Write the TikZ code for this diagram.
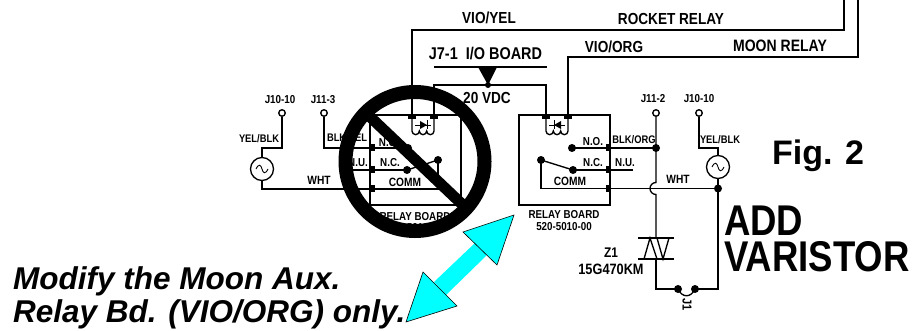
\documentclass[tikz,border=0pt]{standalone}
\usepackage{fontspec}
\setmainfont{Liberation Sans}
\newfontfamily\nf[FakeStretch=0.85]{Liberation Sans}
\definecolor{cya}{RGB}{0,255,255}
\tikzset{
 w/.style={line width=1.35pt,line join=miter},
 lab/.style={inner sep=0pt,font=\nf\bfseries\fontsize{#1}{#1}\selectfont},
 lab/.default=11.5,
 term/.style={circle,draw,line width=1.35pt,fill=white,minimum size=6.5pt,inner sep=0pt},
 jdot/.style={circle,fill=black,minimum size=8pt,inner sep=0pt},
 pad/.style={rectangle,fill=black,minimum width=8pt,minimum height=5pt,inner sep=0pt},
 sidepad/.style={rectangle,fill=black,minimum width=5pt,minimum height=7pt,inner sep=0pt},
 source/.style={circle,draw,line width=1.35pt,fill=white,minimum size=23pt,inner sep=0pt},
 cy/.style={fill=cya,draw=none},
 cyh/.style={fill=cya,draw=black,line width=.6pt,line join=miter},
}
\begin{document}
\begin{tikzpicture}[x=1pt,y=-1pt]
\useasboundingbox (0,0) rectangle (916,331);
\def\sinewave#1#2{\draw[line width=.9pt] (#1-6,#2) .. controls (#1-3,#2-6) and (#1-1,#2-4) .. (#1,#2) .. controls (#1+1,#2+4) and (#1+3,#2+6) .. (#1+6,#2);}
% #1 left x, #2 right x, #3 triangle base x, #4 tip/bar x
\def\coil#1#2#3#4{%
 \draw[w] (#1,117) -- (#1,131) arc[start angle=180,end angle=0,radius=3.67] arc[start angle=180,end angle=0,radius=3.67] arc[start angle=180,end angle=0,radius=3.67] -- (#2,117);
 \draw[line width=.9pt] (#1+3,125) -- (#1+19,125);
 \fill (#3,121) -- (#3,129) -- (#4,125) -- cycle;
 \draw[line width=.9pt] (#4,120.5) -- (#4,129.5);
}
% ---- long wires
\coordinate (ry) at (844,0);
\coordinate (my) at (858,0);
\draw[w] (ry) -- (844,30) -- (412,30) -- (412,117);
\draw[w] (my) -- (858,57) -- (568,57) -- (568,117);
\coordinate (bus) at (488,85);
\draw[w] (434,117) -- (434,85) -- (bus) -- (546,85) -- (546,117);
\draw[w] (434,67) -- (547,67);
\fill (478,67) -- (497,67) -- (488,85) -- cycle;
\node[jdot,minimum size=6pt] at (bus) {};
% ---- left relay
\draw[w] (370,115) rectangle (461,205);
\coil{412}{434}{420}{427}
\node[pad] at (412,117) {};\node[pad] at (434,117) {};
\node[term] (t1) at (282,113) {};
\node[term] (t2) at (324,113) {};
\node[source] (s1) at (262,169) {};
\sinewave{262}{169}
\draw[w] (t1) -- (282,148) -- (262,148) -- (s1);
\draw[w] (t2) -- (324,148) -- (408,148);
\draw[w] (341,170) -- (407,170);
\draw[w] (s1) -- (262,189) -- (438,189) -- (438,160);
\draw[w] (438,160) -- (407,170);
\node[jdot] at (408,148) {};
\node[jdot] at (407,170) {};
\node[jdot] at (438,160) {};
\node[sidepad] at (372,148) {};
\node[sidepad] at (372,170) {};
\node[sidepad] at (372,189) {};
% ---- right relay
\draw[w] (519,115) rectangle (610,205);
\coil{546}{568}{561}{554}
\node[pad] at (546,117) {};\node[pad] at (568,117) {};
\node[term] (t3) at (656,113) {};
\node[term] (t4) at (699,113) {};
\node[source] (s2) at (718,167) {};
\sinewave{718}{167}
\draw[w] (t4) -- (699,148) -- (718,148) -- (s2);
\draw[w] (572,148) -- (656,148);
\draw[w] (573,170) -- (633,170);
\draw[w] (541,160) -- (573,170);
\draw[w] (541,160) -- (541,188.5) -- (718,188.5);
\draw[w] (t3) -- (656,182.5) arc[start angle=270,end angle=90,radius=6] -- (656,238);
\draw[w] (656,259) -- (656,289) -- (678,289);
\draw[w] (s2) -- (718,289) -- (695,289);
\draw[w] (678,289) .. controls (682,298) and (691,298) .. (695,289);
\node[jdot] at (572,148) {};
\node[jdot] at (573,170) {};
\node[jdot] at (541,160) {};
\node[jdot] at (656,148) {};
\node[jdot] at (718,188.5) {};
\node[jdot] at (678,289) {};
\node[jdot] at (695,289) {};
\node[sidepad] at (608,148) {};
\node[sidepad] at (608,170) {};
\node[sidepad] at (608,188.5) {};
% varistor
\draw[w] (638,238) -- (674,238);
\draw[w] (638,259) -- (674,259);
\draw[w] (644,259) -- (650,238) -- (657,259);
\draw[w] (657,238) -- (663,259) -- (669,238);
% ---- labels
\node[lab=16] at (489,18) {VIO/YEL};
\node[lab=16] at (671,19) {ROCKET RELAY};
\node[lab=16] at (614,47) {VIO/ORG};
\node[lab=16.5] at (780,46) {MOON RELAY};
\node[lab=17] at (485.5,54) {J7-1\ \ I/O BOARD};
\node[lab=16] at (487,98) {20 VDC};
\node[lab=11.5] at (280,100) {J10-10};
\node[lab=11.5] at (323,100) {J11-3};
\node[lab=11] at (259,139) {YEL/BLK};
\node[lab=11] at (347,138) {BLK/YEL};
\node[lab] at (389,143) {N.O.};
\node[lab] at (390,163) {N.C.};
\node[lab] at (358,163) {N.U.};
\node[lab=12] at (405,182) {COMM};
\node[lab=12] at (319,180) {WHT};
\node[lab] at (415,217) {RELAY BOARD};
\node[lab] at (415,228) {520-5010-00};
\node[lab] at (593,142) {N.O.};
\node[lab] at (593,163) {N.C.};
\node[lab] at (625,163) {N.U.};
\node[lab=11] at (634,140) {BLK/ORG};
\node[lab=12] at (570,181) {COMM};
\node[lab=12] at (678,179) {WHT};
\node[lab] at (564,215) {RELAY BOARD};
\node[lab] at (564,227) {520-5010-00};
\node[lab=14] at (611,253) {Z1};
\node[lab=15] at (611,269) {15G470KM};
\node[lab=11.5] at (653,99) {J11-2};
\node[lab=11.5] at (699,99) {J10-10};
\node[lab=11] at (720,140) {YEL/BLK};
\node[lab=13,rotate=-90] at (687,305) {J1};
\node[inner sep=0pt,font=\bfseries\fontsize{34}{34}\selectfont] at (818,156) {Fig. 2};
\node[lab=43,anchor=base west,text height=30pt,text depth=0pt] at (724,236) {ADD};
\node[lab=43,anchor=base west,text height=30pt,text depth=0pt] at (724,272) {VARISTOR};
\node[inner sep=0pt,anchor=base west,font=\bfseries\itshape\fontsize{31.5}{31.5}\selectfont] at (13,289) {Modify the Moon Aux.};
\node[inner sep=0pt,anchor=base west,font=\bfseries\itshape\fontsize{31.5}{31.5}\selectfont] at (13,323) {Relay Bd. (VIO/ORG) only.};
% ---- prohibition sign
\draw[line width=14pt] (415,161.5) circle[radius=69.5];
\draw[line width=11pt] (365,112) -- (465,207);
% ---- cyan arrow
\fill[cy] (475,243) -- (487,255) -- (446,295) -- (434,282) -- cycle;
\draw[cyh] (514,215) -- (463,232) -- (497,265) -- cycle;
\draw[cyh] (406,322) -- (423,272) -- (457,306) -- cycle;
\end{tikzpicture}
\end{document}
